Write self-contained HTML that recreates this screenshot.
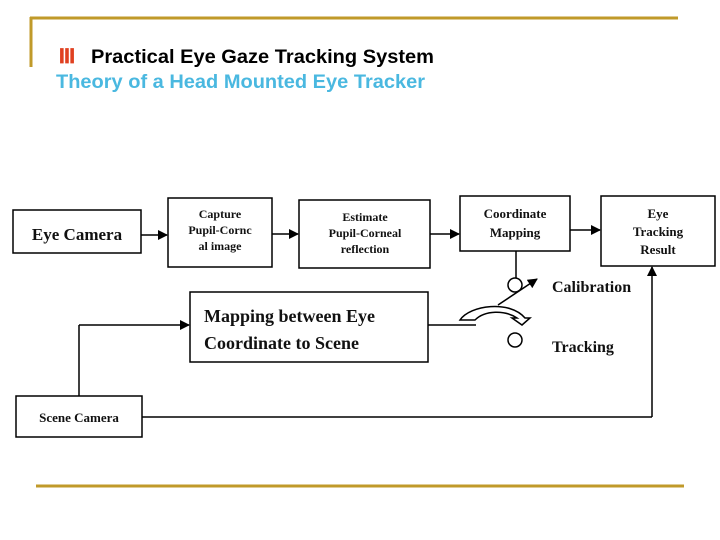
<!DOCTYPE html>
<html><head><style>
body{margin:0;background:#fff;width:720px;height:540px;overflow:hidden}
svg{display:block}
.s{font-family:"Liberation Serif",serif;font-weight:bold;fill:#111}
</style></head><body>
<svg width="720" height="540" viewBox="0 0 720 540" xmlns="http://www.w3.org/2000/svg">
<defs><marker id="a" markerWidth="10" markerHeight="10" refX="9" refY="5" orient="auto" markerUnits="userSpaceOnUse"><path d="M0,0 L10,5 L0,10 Z" fill="#000"/></marker></defs>
<line x1="30" y1="18" x2="678" y2="18" stroke="#c09a2a" stroke-width="3"/>
<line x1="31" y1="17" x2="31" y2="67" stroke="#c09a2a" stroke-width="3"/>
<line x1="36" y1="486" x2="684" y2="486" stroke="#c09a2a" stroke-width="3"/>
<text x="58" y="63" font-family="Liberation Serif,serif" font-size="20" fill="#e04020" font-weight="bold" textLength="18" lengthAdjust="spacingAndGlyphs">Ⅲ</text>
<text x="91" y="63" font-family="Liberation Sans,sans-serif" font-size="19" font-weight="bold" fill="#000" textLength="343" lengthAdjust="spacingAndGlyphs">Practical Eye Gaze Tracking System</text>
<text x="56" y="88" font-family="Liberation Sans,sans-serif" font-size="19" font-weight="bold" fill="#4ab8e0" textLength="369" lengthAdjust="spacingAndGlyphs">Theory of a Head Mounted Eye Tracker</text>
<g fill="none" stroke="#000" stroke-width="1.5">
<rect x="13" y="210" width="128" height="43"/>
<rect x="168" y="198" width="104" height="69"/>
<rect x="299" y="200" width="131" height="68"/>
<rect x="460" y="196" width="110" height="55"/>
<rect x="601" y="196" width="114" height="70"/>
<rect x="190" y="292" width="238" height="70"/>
<rect x="16" y="396" width="126" height="41"/>
<line x1="141" y1="235" x2="167" y2="235" marker-end="url(#a)"/>
<line x1="272" y1="234" x2="298" y2="234" marker-end="url(#a)"/>
<line x1="430" y1="234" x2="459" y2="234" marker-end="url(#a)"/>
<line x1="570" y1="230" x2="600" y2="230" marker-end="url(#a)"/>
<line x1="516" y1="251" x2="516" y2="278"/>
<circle cx="515" cy="285" r="7"/>
<circle cx="515" cy="340" r="7"/>
<line x1="498" y1="305" x2="537" y2="279" marker-end="url(#a)"/>
<line x1="428" y1="325" x2="476" y2="325"/>
<path d="M460,320 C470,305 510,300 525,318 L530,318 L522,325 L512,318 L517,318 C505,310 485,310 475,320 Z"/>
<line x1="142" y1="417" x2="652" y2="417"/>
<line x1="652" y1="417" x2="652" y2="267" marker-end="url(#a)"/>
<line x1="79" y1="396" x2="79" y2="325"/>
<line x1="79" y1="325" x2="189" y2="325" marker-end="url(#a)"/>
</g>
<text class="s" x="77" y="240" font-size="17" text-anchor="middle">Eye Camera</text>
<g class="s" font-size="12" text-anchor="middle">
<text x="220" y="218">Capture</text><text x="220" y="234">Pupil-Cornc</text><text x="220" y="250">al image</text>
<text x="365" y="221">Estimate</text><text x="365" y="237">Pupil-Corneal</text><text x="365" y="253">reflection</text>
<text x="515" y="218" font-size="13">Coordinate</text><text x="515" y="237" font-size="13">Mapping</text>
<text x="658" y="218" font-size="13">Eye</text><text x="658" y="236" font-size="13">Tracking</text><text x="658" y="254" font-size="13">Result</text>
<text x="79" y="422" font-size="13">Scene Camera</text>
</g>
<text class="s" x="204" y="322" font-size="18">Mapping between Eye</text>
<text class="s" x="204" y="349" font-size="18">Coordinate to Scene</text>
<text class="s" x="552" y="292" font-size="16">Calibration</text>
<text class="s" x="552" y="352" font-size="16">Tracking</text>
</svg>
</body></html>
